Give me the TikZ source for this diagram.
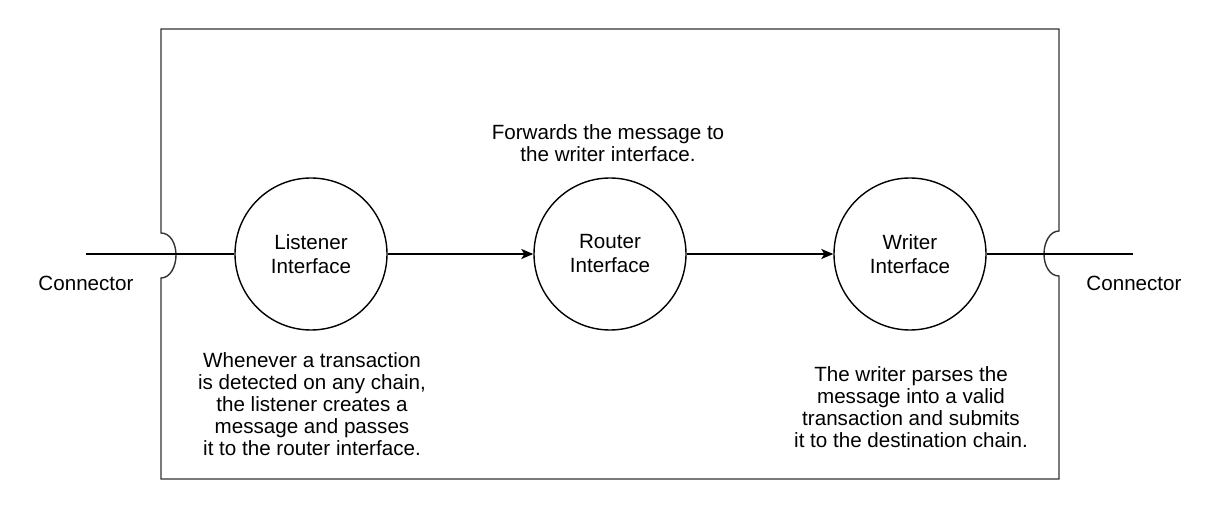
\documentclass[tikz,border=0pt]{standalone}
\usepackage{fontspec}
\setmainfont{Liberation Sans}
\usetikzlibrary{arrows.meta}
\begin{document}
\begin{tikzpicture}[x=1pt,y=-1pt,
  iface/.style={circle,draw,line width=1.4pt,minimum size=152pt,inner sep=0pt,align=center,font=\fontsize{20.6}{24}\selectfont},
  lbl/.style={align=center,inner sep=0pt,font=\fontsize{20.6}{22}\selectfont},
  wire/.style={line width=1.4pt},
  flow/.style={wire,-{Stealth[length=12pt,width=10pt,inset=3pt]}},
  frame/.style={line width=1.4pt,draw=black!80}]
\useasboundingbox (0,0) rectangle (1224,513);
% frame with bumps
\draw[frame] (161,233) -- (161,29) -- (1059,29) -- (1059,231)
  .. controls (1050,231) and (1044,242) .. (1044,254)
  .. controls (1044,266) and (1050,276) .. (1059,276)
  -- (1059,479) -- (161,479) -- (161,278)
  .. controls (170,278) and (176,267) .. (176,255)
  .. controls (176,243) and (170,233) .. (161,233) -- cycle;
% interfaces
\node[iface] (L) at (311,254) {Listener\\Interface};
\node[iface] (R) at (610,254) {Router\\Interface};
\node[iface] (W) at (910,254) {Writer\\Interface};
\coordinate (cl) at (86,254);
\coordinate (cr) at (1133,254);
\draw[wire] (cl) -- (L.west);
\draw[wire] (W.east) -- (cr);
\draw[flow] (L.east) -- (R.west);
\draw[flow] (R.east) -- (W.west);
% labels
\node[lbl] (c1) at (86,283) {Connector};
\node[lbl] (c2) at (1134,283) {Connector};
\node[lbl] (tR) at (608,143) {Forwards the message to\\the writer interface.};
\node[lbl] (tL) at (312,404) {Whenever a transaction\\is detected on any chain,\\the listener creates a\\message and passes\\it to the router interface.};
\node[lbl] (tW) at (911,407) {The writer parses the\\message into a valid\\transaction and submits\\it to the destination chain.};
\end{tikzpicture}
\end{document}
